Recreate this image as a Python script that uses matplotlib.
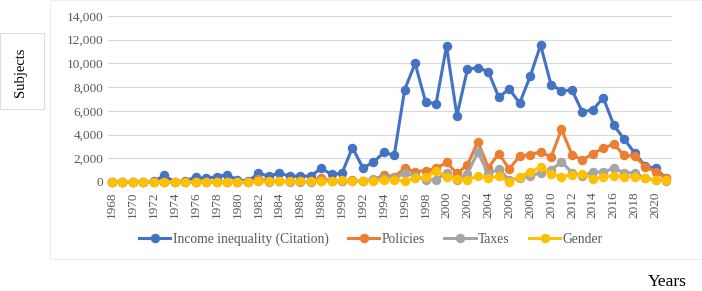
import matplotlib
matplotlib.use("Agg")
import matplotlib.pyplot as plt
from matplotlib.patches import Rectangle
from matplotlib.ticker import FuncFormatter

years = list(range(1968, 2022))

income_inequality = [
    0, 0, 0, 0, 50, 550, 0, 100, 400, 300, 450, 600, 200, 50,
    730, 500, 730, 500, 500, 500, 1150, 650, 730, 2900, 1200, 1650, 2500, 2250,
    7800, 10000, 6750, 6600, 11450, 5600, 9500, 9650, 9300, 7150, 7850, 6650,
    8900, 11550, 8200, 7700, 7750, 5900, 6100, 7100, 4800, 3600, 2450, 1350,
    1150, 300,
]
policies = [
    0, 0, 0, 0, 0, 0, 0, 0, 0, 0, 0, 0, 0, 0,
    250, 100, 100, 50, 50, 50, 300, 100, 100, 150, 100, 150, 600, 450,
    1150, 870, 950, 1150, 1650, 730, 1430, 3400, 1200, 2400, 1100, 2200,
    2300, 2550, 2100, 4450, 2300, 1850, 2400, 2850, 3200, 2250, 2200, 1300,
    870, 330,
]
taxes = [
    0, 0, 0, 0, 0, 0, 0, 0, 0, 0, 0, 0, 0, 0,
    50, 0, 50, 0, 0, 0, 100, 50, 50, 50, 100, 250, 350, 300,
    750, 500, 200, 200, 750, 150, 700, 2550, 650, 1100, 170, 300,
    500, 800, 1000, 1700, 800, 500, 850, 850, 1150, 780, 780, 300,
    200, 100,
]
gender = [
    0, 0, 0, 0, 0, 0, 0, 0, 0, 0, 0, 0, 0, 0,
    50, 50, 50, 50, 50, 50, 100, 50, 170, 100, 100, 100, 200, 200,
    100, 300, 400, 950, 450, 250, 200, 500, 330, 500, 30, 450,
    850, 1250, 700, 420, 620, 700, 280, 450, 530, 450, 450, 300,
    150, 150,
]

series = [
    ("Income inequality (Citation)", income_inequality, "#4472C4"),
    ("Policies", policies, "#ED7D31"),
    ("Taxes", taxes, "#A5A5A5"),
    ("Gender", gender, "#FFC000"),
]

serif = ["Liberation Serif", "DejaVu Serif"]
text_gray = "#595959"

fig = plt.figure(figsize=(7.02, 2.91), dpi=100)
# faint chart-area outline and the box round the y label
fig.patches.append(Rectangle((50 / 702, 1 - 259 / 291), 652 / 702, 259 / 291,
                             transform=fig.transFigure, fill=False,
                             edgecolor="#eeeeee", linewidth=0.8))
fig.patches.append(Rectangle((0, 1 - 109 / 291), 44 / 702, 76 / 291,
                             transform=fig.transFigure, facecolor="white",
                             edgecolor="#dddddd", linewidth=0.8))

ax = fig.add_axes([108 / 702, 1 - 182 / 291, 564 / 702, 166 / 291])

for name, vals, color in series:
    ax.plot(years, vals, color=color, linewidth=2.2, marker="o",
            markersize=5.8, label=name, clip_on=False)

ax.set_ylim(0, 14000)
ax.set_yticks(range(0, 14001, 2000))
ax.yaxis.set_major_formatter(FuncFormatter(lambda v, p: f"{int(v):,}"))
ax.set_xlim(1967.62, 2021.57)
ax.set_xticks(years[::2])
ax.set_xticklabels([str(y) for y in years[::2]], rotation=90)
ax.grid(axis="y", color="#d9d9d9", linewidth=0.8)
ax.set_axisbelow(True)
for s in ax.spines.values():
    s.set_visible(False)
ax.tick_params(length=0, colors=text_gray, labelsize=9.5)
ax.tick_params(axis="x", pad=7)
for lab in ax.get_xticklabels() + ax.get_yticklabels():
    lab.set_family(serif)

fig.legend(loc="center", bbox_to_anchor=(371 / 702, 1 - 239 / 291), ncol=4,
           frameon=False, handlelength=2.3, columnspacing=1.4,
           handletextpad=0.2, prop={"family": serif, "size": 9.8},
           labelcolor=text_gray)

fig.text(21 / 702, 1 - 72 / 291, "Subjects", rotation=90, ha="center",
         va="center", family=serif, fontsize=10.5)
fig.text(667 / 702, 1 - 282 / 291, "Years", ha="center", va="center",
         family=serif, fontsize=12.5)

fig.savefig("out.png", dpi=100)
